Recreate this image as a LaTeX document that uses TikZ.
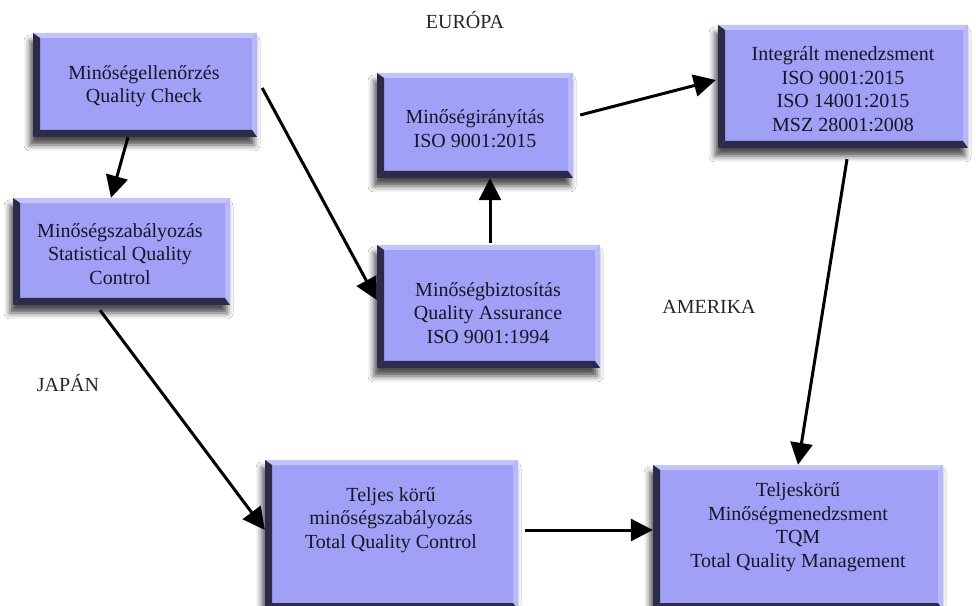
\documentclass[tikz,border=0pt]{standalone}
\usepackage{fontspec}
\setmainfont{Liberation Serif}
\usetikzlibrary{arrows.meta,calc,shadows.blur}

\definecolor{boxfill}{RGB}{160,160,246}
\definecolor{bevdark}{RGB}{44,44,74}
\definecolor{bevlight}{RGB}{196,196,252}
\definecolor{bevright}{RGB}{184,184,252}
\definecolor{inktext}{RGB}{22,22,40}

\tikzset{
  qbox/.style={draw=none, fill=boxfill, inner sep=0pt,
    blur shadow={shadow xshift=-3pt, shadow yshift=-8pt,
                 shadow blur radius=6pt, shadow blur extra rounding=0pt,
                 shadow opacity=70},
    path picture={
      \coordinate (SW) at (path picture bounding box.south west);
      \coordinate (NE) at (path picture bounding box.north east);
      % light top and right bevels
      \fill[bevlight] (SW |- NE) -- (NE) -- ($(NE)+(-5pt,-5pt)$) -- ($(SW |- NE)+(7pt,-5pt)$) -- cycle;
      \fill[bevright] (NE) -- (NE |- SW) -- ($(NE |- SW)+(-5pt,7pt)$) -- ($(NE)+(-5pt,-5pt)$) -- cycle;
      % dark left and bottom bevels
      \fill[bevdark] (SW) -- (SW |- NE) -- ($(SW |- NE)+(7pt,-5pt)$) -- ($(SW)+(7pt,7pt)$) -- cycle;
      \fill[bevdark] (SW) -- (NE |- SW) -- ($(NE |- SW)+(-5pt,7pt)$) -- ($(SW)+(7pt,7pt)$) -- cycle;
    }},
  boxtext/.style={align=center, text=inktext, font=\fontsize{20}{23.5}\selectfont, inner sep=0pt},
  region/.style={text=black!85, font=\fontsize{20}{24}\selectfont, inner sep=0pt},
  flow/.style={line width=3pt, -{Triangle[length=22pt,width=22pt]}},
}

\begin{document}
\begin{tikzpicture}[x=1pt,y=1pt]
  \fill[white] (0,0) rectangle (976,605);
  \useasboundingbox (0,0) rectangle (976,605);

  % boxes
  \node[qbox, minimum width=224, minimum height=104] (b1) at (145,520) {};
  \node[qbox, minimum width=217, minimum height=107] (b2) at (121.5,353.5) {};
  \node[qbox, minimum width=196, minimum height=105] (b3) at (475,479.5) {};
  \node[qbox, minimum width=250, minimum height=123] (b4) at (843,518.5) {};
  \node[qbox, minimum width=223, minimum height=123] (b5) at (488.5,298.5) {};
  \node[qbox, minimum width=253, minimum height=150] (b6) at (391.5,70) {};
  \node[qbox, minimum width=290, minimum height=145] (b7) at (798,67.5) {};

  % box texts
  \node[boxtext] (t1) at (144,519) {Minőségellenőrzés\\Quality Check};
  \node[boxtext] (t2) at (120,351) {Minőségszabályozás\\Statistical Quality\\Control};
  \node[boxtext] (t3) at (475,476.5) {Minőségirányítás\\ISO 9001:2015};
  \node[boxtext] (t4) at (843,516) {Integrált menedzsment\\ISO 9001:2015\\ISO 14001:2015\\MSZ 28001:2008};
  \node[boxtext] (t5) at (488,292) {Minőségbiztosítás\\Quality Assurance\\ISO 9001:1994};
  \node[boxtext] (t6) at (391,85) {Teljes körű\\minőségszabályozás\\Total Quality Control};
  \node[boxtext] (t7) at (798,78) {Teljeskörű\\Minőségmenedzsment\\TQM\\Total Quality Management};

  % region labels
  \node[region] (eu) at (465,585) {EURÓPA};
  \node[region] (am) at (709,298) {AMERIKA};
  \node[region] (jp) at (68,222) {JAPÁN};

  % connectors
  \draw[flow] ([xshift=-17pt]b1.south) -- ([xshift=-10.5pt]b2.north);
  \draw[flow] ([xshift=5pt,yshift=-3pt]b1.east) -- ([yshift=6.5pt]b5.west);
  \draw[flow] ([xshift=1.5pt,yshift=2pt]b5.north) -- ([xshift=15pt]b3.south);
  \draw[flow] ([xshift=7pt,yshift=10.5pt]b3.east) -- ([xshift=-2pt,yshift=6.5pt]b4.west);
  \draw[flow] ([xshift=4pt,yshift=-11pt]b4.south) -- (b7.north);
  \draw[flow] ([xshift=-21.5pt,yshift=-5pt]b2.south) -- ([yshift=5pt]b6.west);
  \draw[flow] ([xshift=7pt,yshift=5pt]b6.east) -- ([yshift=7.5pt]b7.west);
\end{tikzpicture}
\end{document}
